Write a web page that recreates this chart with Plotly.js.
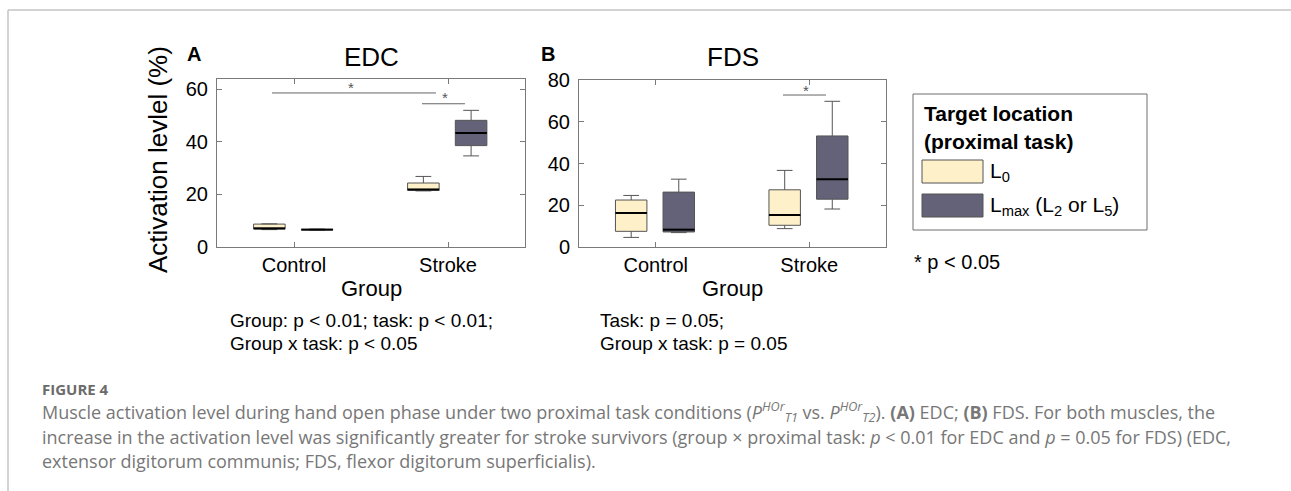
<!DOCTYPE html>
<html>
<head>
<meta charset="utf-8">
<script src="https://cdn.plot.ly/plotly-3.0.1.min.js"></script>
<style>
  html, body { margin: 0; padding: 0; background: #fff; }
  #chart { width: 1291px; height: 491px; }
</style>
</head>
<body>
<div id="chart"></div>
<script>
// ---------------- DATA ----------------
const groups = ['Control', 'Stroke'];
const seriesNames = ['L<sub>0</sub>', 'L<sub>max</sub> (L<sub>2</sub> or L<sub>5</sub>)'];
const legendTitle = ['Target location', '(proximal task)'];

// EDC (panel A) box statistics, per group
const edcL0Low    = [6.6, 21.3];
const edcL0Q1     = [6.9, 21.5];
const edcL0Med    = [7.0, 21.8];
const edcL0Q3     = [8.7, 24.3];
const edcL0High   = [8.8, 26.8];
const edcLmaxLow  = [6.4, 34.6];
const edcLmaxQ1   = [6.5, 38.5];
const edcLmaxMed  = [6.6, 43.3];
const edcLmaxQ3   = [6.7, 48.1];
const edcLmaxHigh = [6.8, 51.9];

// FDS (panel B) box statistics, per group
const fdsL0Low    = [4.6, 8.8];
const fdsL0Q1     = [7.5, 10.4];
const fdsL0Med    = [16.3, 15.3];
const fdsL0Q3     = [22.5, 27.4];
const fdsL0High   = [24.7, 36.7];
const fdsLmaxLow  = [6.9, 18.2];
const fdsLmaxQ1   = [7.2, 22.9];
const fdsLmaxMed  = [8.3, 32.4];
const fdsLmaxQ3   = [26.3, 53.2];
const fdsLmaxHigh = [32.5, 69.8];

// significance brackets (x in group units, y in %)
const edcSigX0 = [0.857, 1.831];
const edcSigX1 = [1.922, 2.110];
const edcSigY  = [58.5, 54.4];
const fdsSigX0 = [1.829];
const fdsSigX1 = [2.109];
const fdsSigY  = [72.8];

const edcTicks = [0, 20, 40, 60];
const fdsTicks = [0, 20, 40, 60, 80];

const statsA = 'Group: p &lt; 0.01; task: p &lt; 0.01;';
const statsA2 = 'Group x task: p &lt; 0.05';
const statsB = 'Task: p = 0.05;';
const statsB2 = 'Group x task: p = 0.05';

const captionHead = 'FIGURE 4';
const captionLines = [
  'Muscle activation level during hand open phase under two proximal task conditions (<i>P</i><sup><i>HOr</i></sup><sub><i>T1</i></sub> vs. <i>P</i><sup><i>HOr</i></sup><sub><i>T2</i></sub>). <b>(A)</b> EDC; <b>(B)</b> FDS. For both muscles, the',
  'increase in the activation level was significantly greater for stroke survivors (group × proximal task: <i>p</i> &lt; 0.01 for EDC and <i>p</i> = 0.05 for FDS) (EDC,',
  'extensor digitorum communis; FDS, flexor digitorum superficialis).'
];

// ---------------- STYLE ----------------
const W = 1291, H = 491;
const FONT = 'Liberation Sans, Arial, sans-serif';
const CAP_FONT = 'Open Sans, Lato, sans-serif';
const C_L0 = '#FEF0C9';
const C_LMAX = '#636279';
const C_EDGE = '#555555';
const C_AXIS = '#7a7a7a';
const OFF = [-0.16, 0.15];
const BOXW = 0.205;

const px = x => x / W;
const py = y => 1 - y / H;

function pos(off) { return groups.map((g, i) => i + 1 + off); }

function boxTrace(xa, ya, off, low, q1, med, q3, high, color) {
  return {
    type: 'box', xaxis: xa, yaxis: ya,
    x: pos(off), lowerfence: low, q1: q1, median: med, q3: q3, upperfence: high,
    width: BOXW, whiskerwidth: 0.5, boxpoints: false,
    fillcolor: color, line: { color: C_EDGE, width: 1 },
    showlegend: false, hoverinfo: 'skip'
  };
}
function medTrace(xa, ya, off, med) {
  const xs = [], ys = [];
  pos(off).forEach((p, i) => { xs.push(p - BOXW / 2, p + BOXW / 2, null); ys.push(med[i], med[i], null); });
  return { type: 'scatter', mode: 'lines', xaxis: xa, yaxis: ya, x: xs, y: ys,
    line: { color: '#000', width: 2 }, showlegend: false, hoverinfo: 'skip' };
}
function sigTrace(xa, ya, x0, x1, y) {
  const xs = [], ys = [];
  x0.forEach((v, i) => { xs.push(v, x1[i], null); ys.push(y[i], y[i], null); });
  return { type: 'scatter', mode: 'lines', xaxis: xa, yaxis: ya, x: xs, y: ys,
    line: { color: '#666', width: 1 }, showlegend: false, hoverinfo: 'skip' };
}

const data = [
  boxTrace('x', 'y', OFF[0], edcL0Low, edcL0Q1, edcL0Med, edcL0Q3, edcL0High, C_L0),
  boxTrace('x', 'y', OFF[1], edcLmaxLow, edcLmaxQ1, edcLmaxMed, edcLmaxQ3, edcLmaxHigh, C_LMAX),
  boxTrace('x2', 'y2', OFF[0], fdsL0Low, fdsL0Q1, fdsL0Med, fdsL0Q3, fdsL0High, C_L0),
  boxTrace('x2', 'y2', OFF[1], fdsLmaxLow, fdsLmaxQ1, fdsLmaxMed, fdsLmaxQ3, fdsLmaxHigh, C_LMAX),
  medTrace('x', 'y', OFF[0], edcL0Med),
  medTrace('x', 'y', OFF[1], edcLmaxMed),
  medTrace('x2', 'y2', OFF[0], fdsL0Med),
  medTrace('x2', 'y2', OFF[1], fdsLmaxMed),
  sigTrace('x', 'y', edcSigX0, edcSigX1, edcSigY),
  sigTrace('x2', 'y2', fdsSigX0, fdsSigX1, fdsSigY)
];

function xAxis(d0, d1, anchor) {
  return {
    domain: [px(d0), px(d1)], anchor: anchor, range: [0.5, 2.5],
    tickmode: 'array', tickvals: groups.map((g, i) => i + 1), ticktext: groups,
    ticks: 'inside', ticklen: 5, tickcolor: C_AXIS, tickwidth: 1,
    showline: true, linecolor: C_AXIS, linewidth: 1, mirror: 'ticks',
    showgrid: false, zeroline: false,
    tickfont: { family: FONT, size: 20, color: '#000' }, ticklabelstandoff: 0
  };
}
function yAxis(top, bottom, anchor, maxv, ticks) {
  return {
    domain: [py(bottom), py(top)], anchor: anchor, range: [0, maxv],
    tickmode: 'array', tickvals: ticks,
    ticks: 'inside', ticklen: 5, tickcolor: C_AXIS, tickwidth: 1,
    showline: true, linecolor: C_AXIS, linewidth: 1, mirror: 'ticks',
    showgrid: false, zeroline: false,
    tickfont: { family: FONT, size: 20, color: '#000' }, ticklabelstandoff: 4
  };
}

function ann(text, x, y, o) {
  return Object.assign({
    text: text, x: px(x), y: py(y), xref: 'paper', yref: 'paper',
    showarrow: false, xanchor: 'center', yanchor: 'middle',
    font: { family: FONT, size: 20, color: '#000' }
  }, o || {});
}
function star(xa, ya, x, y) {
  return { text: '*', x: x, y: y, xref: xa, yref: ya, showarrow: false,
    xanchor: 'center', yanchor: 'middle', font: { family: FONT, size: 15, color: '#555' } };
}

const annotations = [
  ann('<b>A</b>', 194, 54, { font: { family: FONT, size: 20, color: '#000' } }),
  ann('<b>B</b>', 548, 54, { font: { family: FONT, size: 20, color: '#000' } }),
  ann('EDC', 371, 57, { font: { family: FONT, size: 26, color: '#000' } }),
  ann('FDS', 733, 57, { font: { family: FONT, size: 26, color: '#000' } }),
  ann('Activation levlel (%)', 158, 160, { textangle: -90, font: { family: FONT, size: 26, color: '#000' } }),
  ann('Group', 371, 288, { font: { family: FONT, size: 22, color: '#000' } }),
  ann('Group', 732, 288, { font: { family: FONT, size: 22, color: '#000' } }),
  ann(statsA, 228, 320, { xanchor: 'left', font: { family: FONT, size: 19, color: '#000' } }),
  ann(statsA2, 228, 343, { xanchor: 'left', font: { family: FONT, size: 19, color: '#000' } }),
  ann(statsB, 598, 320, { xanchor: 'left', font: { family: FONT, size: 19, color: '#000' } }),
  ann(statsB2, 598, 343, { xanchor: 'left', font: { family: FONT, size: 19, color: '#000' } }),
  ann('<b>' + legendTitle[0] + '</b>', 922, 113, { xanchor: 'left', font: { family: FONT, size: 21, color: '#000' } }),
  ann('<b>' + legendTitle[1] + '</b>', 922, 142, { xanchor: 'left', font: { family: FONT, size: 21, color: '#000' } }),
  ann(seriesNames[0], 988, 172, { xanchor: 'left', font: { family: FONT, size: 21, color: '#000' } }),
  ann(seriesNames[1], 988, 206, { xanchor: 'left', font: { family: FONT, size: 21, color: '#000' } }),
  ann('* p &lt; 0.05', 912, 262, { xanchor: 'left', font: { family: FONT, size: 20, color: '#000' } }),
  ann('<b>' + captionHead + '</b>', 40, 389, { xanchor: 'left', font: { family: CAP_FONT, size: 15, color: '#6b6b6b' } }),
];
captionLines.forEach((t, i) => {
  annotations.push(ann(t, 40, 412 + i * 24.5, { xanchor: 'left', font: { family: CAP_FONT, size: 18, color: '#777' } }));
});
// significance stars
[[1.37, 60.6], [1.98, 56.6]].forEach(s => annotations.push(star('x', 'y', s[0], s[1])));
annotations.push(star('x2', 'y2', 1.979, 75.2));

const shapes = [
  // page frame
  { type: 'line', xref: 'paper', yref: 'paper', x0: px(8), x1: px(W), y0: py(10), y1: py(10), line: { color: '#c4c4c4', width: 1.5 } },
  { type: 'line', xref: 'paper', yref: 'paper', x0: px(8), x1: px(8), y0: py(10), y1: py(H), line: { color: '#c4c4c4', width: 1.5 } },
  // legend box and swatches
  { type: 'rect', xref: 'paper', yref: 'paper', x0: px(913), x1: px(1147), y0: py(230), y1: py(94), line: { color: '#6e6e6e', width: 1 }, fillcolor: 'rgba(0,0,0,0)' },
  { type: 'rect', xref: 'paper', yref: 'paper', x0: px(922), x1: px(983), y0: py(183), y1: py(160), line: { color: C_EDGE, width: 1 }, fillcolor: C_L0 },
  { type: 'rect', xref: 'paper', yref: 'paper', x0: px(922), x1: px(983), y0: py(217), y1: py(194), line: { color: C_EDGE, width: 1 }, fillcolor: C_LMAX }
];

const layout = {
  width: W, height: H, margin: { l: 0, r: 0, t: 0, b: 0 },
  paper_bgcolor: '#fff', plot_bgcolor: '#fff', showlegend: false,
  boxmode: 'overlay',
  xaxis: xAxis(217, 525, 'y'),
  yaxis: yAxis(79, 247, 'x', 63.8, edcTicks),
  xaxis2: xAxis(579, 886, 'y2'),
  yaxis2: yAxis(80, 247, 'x2', 80, fdsTicks),
  annotations: annotations, shapes: shapes
};

Plotly.newPlot('chart', data, layout, { displayModeBar: false, staticPlot: true });
</script>
</body>
</html>
